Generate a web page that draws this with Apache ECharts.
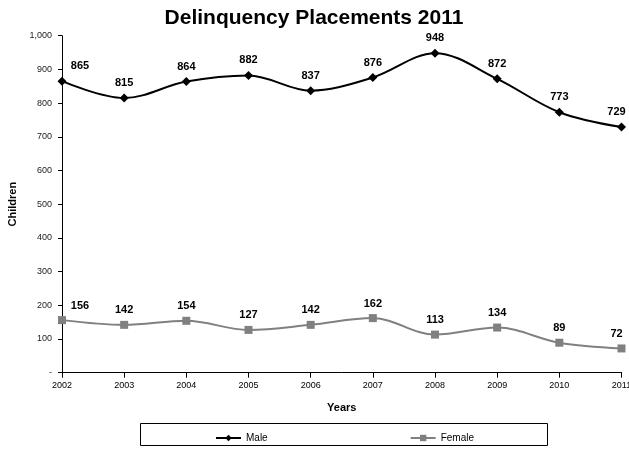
<!DOCTYPE html>
<html><head><meta charset="utf-8">
<script src="https://cdn.jsdelivr.net/npm/echarts@6/dist/echarts.min.js"></script>
<style>html,body{margin:0;padding:0;background:#fff}#c{width:629px;height:450px}</style>
</head><body><div id="c"></div>
<script>
const years = ['2002','2003','2004','2005','2006','2007','2008','2009','2010','2011'];
const male = [865, 815, 864, 882, 837, 876, 948, 872, 773, 729];
const female = [156, 142, 154, 127, 142, 162, 113, 134, 89, 72];
const yTicks = [0, 100, 200, 300, 400, 500, 600, 700, 800, 900, 1000];

const chart = echarts.init(document.getElementById('c'), null, {renderer: 'canvas'});
const F = 'Liberation Sans, Arial, sans-serif';
const baseLbl = {show: true, position: 'top', distance: 5, fontFamily: F, fontSize: 11, fontWeight: 'bold', color: '#000'};
const firstLbl = Object.assign({}, baseLbl, {offset: [18, 0]});
const lastLbl = Object.assign({}, baseLbl, {offset: [-5, 0]});
const toData = arr => arr.map((v, i) => i === 0 ? {value: v, label: firstLbl}
  : (i === arr.length - 1 ? {value: v, label: lastLbl} : v));
chart.setOption({
  animation: false,
  title: {text: 'Delinquency Placements 2011', left: 309, textAlign: 'center', top: 3,
    textStyle: {fontFamily: F, fontSize: 21, fontWeight: 'bold', color: '#000'}},
  grid: {left: 62, right: 7.5, top: 35.7, bottom: 77.3, outerBoundsMode: 'none', containLabel: false},
  xAxis: {type: 'category', data: years, boundaryGap: false,
    name: 'Years', nameLocation: 'middle', nameGap: 30,
    nameTextStyle: {fontFamily: F, fontSize: 11, fontWeight: 'bold', color: '#000'},
    axisLine: {lineStyle: {color: '#000', width: 1}},
    axisTick: {show: true, length: 5, alignWithLabel: true, lineStyle: {color: '#000'}},
    axisLabel: {fontFamily: F, fontSize: 9, color: '#000', margin: 8, showMaxLabel: true, hideOverlap: false}},
  yAxis: {type: 'value', min: 0, max: 1000, interval: 100,
    name: 'Children', nameLocation: 'middle', nameGap: 44, nameRotate: 90,
    nameTextStyle: {fontFamily: F, fontSize: 11, fontWeight: 'bold', color: '#000'},
    axisLine: {show: true, lineStyle: {color: '#000', width: 1}},
    axisTick: {show: true, length: 4, lineStyle: {color: '#000'}},
    splitLine: {show: false},
    axisLabel: {fontFamily: F, fontSize: 9, color: '#222', margin: 10,
      formatter: v => v === 0 ? '-' : (yTicks.includes(v) ? v.toLocaleString('en-US') : '')}},
  legend: {left: 210, top: 428, itemWidth: 25, itemHeight: 8, itemGap: 142,
    textStyle: {fontFamily: F, fontSize: 10, color: '#000'},
    data: [{name: 'Male'}, {name: 'Female'}]},
  graphic: [{type: 'rect', shape: {x: 140.5, y: 423.5, width: 407, height: 22},
    style: {fill: 'none', stroke: '#000', lineWidth: 1}}],
  series: [
    {name: 'Male', type: 'line', data: toData(male), smooth: 0.35,
      symbol: 'diamond', symbolSize: 9,
      lineStyle: {color: '#000', width: 2}, itemStyle: {color: '#000'},
      label: baseLbl},
    {name: 'Female', type: 'line', data: toData(female), smooth: 0.35,
      symbol: 'rect', symbolSize: 8,
      lineStyle: {color: '#808080', width: 2}, itemStyle: {color: '#808080'},
      label: baseLbl}
  ]
});
</script></body></html>
